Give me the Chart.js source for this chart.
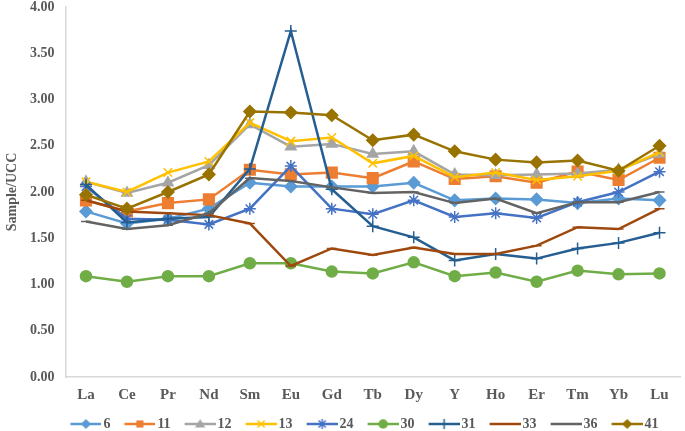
<!DOCTYPE html>
<html>
<head>
<meta charset="utf-8">
<script src="https://cdn.jsdelivr.net/npm/chart.js@4"></script>
<style>
  html, body { margin: 0; padding: 0; background: #fff; }
  #wrap { width: 685px; height: 431px; }
</style>
</head>
<body>
<div id="wrap"><canvas id="reeChart"></canvas></div>
<script>
const elements = ['La', 'Ce', 'Pr', 'Nd', 'Sm', 'Eu', 'Gd', 'Tb', 'Dy', 'Y', 'Ho', 'Er', 'Tm', 'Yb', 'Lu'];
const yTicks = [0, 0.5, 1, 1.5, 2, 2.5, 3, 3.5, 4];

const s6  = [1.79, 1.66, 1.71, 1.82, 2.10, 2.06, 2.06, 2.06, 2.10, 1.91, 1.93, 1.92, 1.88, 1.93, 1.91];
const s11 = [1.91, 1.79, 1.88, 1.92, 2.24, 2.19, 2.21, 2.15, 2.33, 2.14, 2.17, 2.10, 2.22, 2.13, 2.37];
const s12 = [2.11, 1.99, 2.10, 2.29, 2.73, 2.49, 2.52, 2.41, 2.44, 2.19, 2.18, 2.19, 2.20, 2.24, 2.41];
const s13 = [2.11, 2.00, 2.21, 2.33, 2.75, 2.55, 2.59, 2.31, 2.39, 2.16, 2.21, 2.13, 2.17, 2.23, 2.43];
const s24 = [2.06, 1.71, 1.70, 1.65, 1.82, 2.28, 1.82, 1.76, 1.91, 1.73, 1.77, 1.72, 1.89, 2.00, 2.22];
const s30 = [1.09, 1.03, 1.09, 1.09, 1.23, 1.23, 1.14, 1.12, 1.24, 1.09, 1.13, 1.03, 1.15, 1.11, 1.12];
const s31 = [2.08, 1.67, 1.71, 1.73, 2.25, 3.74, 2.03, 1.63, 1.51, 1.26, 1.33, 1.28, 1.39, 1.45, 1.56];
const s33 = [1.91, 1.79, 1.77, 1.75, 1.66, 1.20, 1.39, 1.32, 1.40, 1.33, 1.33, 1.42, 1.62, 1.60, 1.82];
const s36 = [1.68, 1.60, 1.64, 1.77, 2.15, 2.12, 2.05, 1.99, 2.00, 1.88, 1.93, 1.77, 1.89, 1.89, 2.00];
const s41 = [1.97, 1.82, 2.00, 2.19, 2.87, 2.86, 2.83, 2.56, 2.62, 2.44, 2.35, 2.32, 2.34, 2.23, 2.50];

const seriesNames = ['6', '11', '12', '13', '24', '30', '31', '33', '36', '41'];
const seriesData = [s6, s11, s12, s13, s24, s30, s31, s33, s36, s41];
const colors = ['#5B9BD5', '#ED7D31', '#A5A5A5', '#FFC000', '#4472C4', '#70AD47', '#255E91', '#9E480E', '#636363', '#997300'];
const markers = ['rectRot', 'rect', 'triangle', 'crossRot', 'star', 'circle', 'cross', 'line', 'line', 'rectRot'];
const radii = [6, 7.5, 6, 6, 6, 5.5, 6, 5, 5, 6];

const textColor = '#595959';
const fontFamily = '"Liberation Serif", "Times New Roman", serif';

// legend picture: line with the marker on it, shifted right so the label sits close to it
function drawMarker(g, style, x, y, r) {
  g.beginPath();
  if (style === 'circle') {
    g.arc(x, y, r, 0, Math.PI * 2); g.fill();
  } else if (style === 'rect') {
    g.fillRect(x - r * 0.7, y - r * 0.7, r * 1.4, r * 1.4);
  } else if (style === 'rectRot') {
    g.moveTo(x, y - r); g.lineTo(x + r, y); g.lineTo(x, y + r); g.lineTo(x - r, y); g.closePath(); g.fill();
  } else if (style === 'triangle') {
    g.moveTo(x, y - r); g.lineTo(x + r, y + r * 0.7); g.lineTo(x - r, y + r * 0.7); g.closePath(); g.fill();
  } else if (style === 'crossRot') {
    g.moveTo(x - r * 0.7, y - r * 0.7); g.lineTo(x + r * 0.7, y + r * 0.7);
    g.moveTo(x + r * 0.7, y - r * 0.7); g.lineTo(x - r * 0.7, y + r * 0.7); g.stroke();
  } else if (style === 'cross') {
    g.moveTo(x, y - r); g.lineTo(x, y + r); g.stroke();
  } else if (style === 'star') {
    g.moveTo(x - r * 0.7, y - r * 0.7); g.lineTo(x + r * 0.7, y + r * 0.7);
    g.moveTo(x + r * 0.7, y - r * 0.7); g.lineTo(x - r * 0.7, y + r * 0.7);
    g.moveTo(x, y - r); g.lineTo(x, y + r); g.stroke();
  }
}

function legendIcon(color, style, r) {
  const c = document.createElement('canvas');
  c.width = 50; c.height = 14;
  const g = c.getContext('2d');
  g.strokeStyle = color; g.fillStyle = color; g.lineWidth = 2.5;
  g.beginPath(); g.moveTo(19, 7); g.lineTo(50, 7); g.stroke();
  g.lineWidth = 1.5;
  drawMarker(g, style, 34.5, 7, Math.min(r, 6) * 0.85);
  return c;
}

const datasets = seriesNames.map((name, i) => ({
  label: name,
  data: seriesData[i],
  borderColor: colors[i],
  backgroundColor: colors[i],
  borderWidth: 2.5,
  pointStyle: markers[i],
  pointRadius: radii[i],
  pointBorderWidth: 1.5,
  pointBorderColor: colors[i],
  pointBackgroundColor: colors[i],
  tension: 0,
  fill: false,
  order: seriesNames.length - i,
  legendIcon: legendIcon(colors[i], markers[i], radii[i])
}));

// Excel centres the legend under the plot area, not the whole canvas
const legendShift = {
  id: 'legendShift',
  afterLayout(chart) {
    if (chart.legend) chart.legend.left += 31;
  }
};

const ctx = document.getElementById('reeChart').getContext('2d');
new Chart(ctx, {
  type: 'line',
  data: { labels: elements, datasets: datasets },
  plugins: [legendShift],
  options: {
    responsive: true,
    maintainAspectRatio: false,
    animation: false,
    layout: { autoPadding: false, padding: { top: 0, right: 5, left: 4, bottom: -10 } },
    plugins: {
      tooltip: { enabled: false },
      legend: {
        position: 'bottom',
        labels: {
          usePointStyle: true,
          pointStyleWidth: 40,
          padding: 0,
          color: textColor,
          font: { family: fontFamily, size: 14, weight: 'bold', lineHeight: 1 },
          generateLabels: chart => chart.data.datasets.map((ds, i) => ({
            text: ds.label,
            datasetIndex: i,
            pointStyle: ds.legendIcon,
            fillStyle: ds.borderColor,
            strokeStyle: ds.borderColor,
            fontColor: textColor,
            lineWidth: 0,
            hidden: false
          }))
        }
      }
    },
    scales: {
      x: {
        offset: true,
        grid: { display: false, drawTicks: false },
        border: { display: true, color: '#D9D9D9', width: 1.5 },
        ticks: { color: textColor, font: { family: fontFamily, size: 15, weight: 'bold' }, padding: 9 },
        afterFit: axis => { axis.height = 40; }
      },
      y: {
        min: 0,
        max: 4,
        afterBuildTicks: axis => { axis.ticks = yTicks.map(v => ({ value: v })); },
        afterFit: axis => { axis.paddingTop = 7; },
        grid: { display: false, drawTicks: false },
        border: { display: true, color: '#D9D9D9', width: 1.5 },
        title: {
          display: true,
          text: 'Sample/UCC',
          color: textColor,
          font: { family: fontFamily, size: 14, weight: 'bold', lineHeight: 1 },
          padding: { top: 1, bottom: 0 }
        },
        ticks: {
          color: textColor,
          font: { family: fontFamily, size: 14, weight: 'bold', lineHeight: 1 },
          padding: 11,
          callback: v => Number(v).toFixed(2)
        }
      }
    }
  }
});
</script>
</body>
</html>
